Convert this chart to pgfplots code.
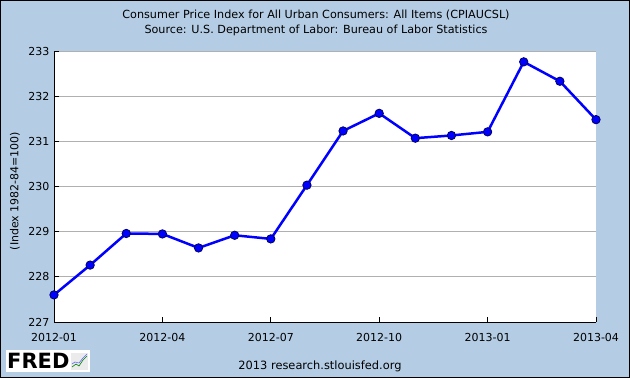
\documentclass[border=0pt]{standalone}
\usepackage{pgfplots}
\pgfplotsset{compat=1.18}
\usepackage{fontspec}
\setmainfont{DejaVu Sans}
\definecolor{bgblue}{HTML}{B4CCE4}
\definecolor{gridgray}{HTML}{B0B0B0}
\definecolor{mkedge}{HTML}{000060}
\begin{document}
\begin{tikzpicture}
\fill[bgblue] (0,0) rectangle (630bp,378bp);
\draw[black, line width=1bp] (0.5bp,0.5bp) rectangle (629.5bp,377.5bp);
\node[font=\fontsize{11.2bp}{12bp}\selectfont] at (316bp,363bp) {Consumer Price Index for All Urban Consumers: All Items (CPIAUCSL)};
\node[font=\fontsize{11.2bp}{12bp}\selectfont] at (316bp,348bp) {Source: U.S. Department of Labor: Bureau of Labor Statistics};
\node[font=\fontsize{11bp}{12bp}\selectfont, rotate=90] at (15bp,187bp) {(Index 1982-84=100)};
\node[font=\fontsize{11.4bp}{12bp}\selectfont] at (320bp,12bp) {2013 research.stlouisfed.org};
% FRED logo
\fill[white] (6bp,6bp) rectangle (90bp,28bp);
\node[font=\fontsize{21bp}{22bp}\selectfont\bfseries, anchor=west, inner sep=0pt] at (7bp,17bp) {FRED};
\fill[black!8] (71bp,8bp) rectangle (88bp,25bp);
\draw[green!50!black, line width=0.6bp] (72bp,11bp) -- (76bp,14bp) -- (79bp,12bp) -- (83bp,18bp) -- (87bp,22bp);
\draw[blue!60, line width=0.6bp] (72bp,14bp) -- (75bp,16bp) -- (79bp,15bp) -- (83bp,20bp) -- (87bp,24bp);
\begin{axis}[
  at={(54bp,56bp)}, anchor=south west,
  width=542bp, height=271bp, scale only axis,
  xmin=0, xmax=15, ymin=227, ymax=233,
  axis background/.style={fill=white},
  axis x line=bottom, axis y line=left,
  axis line style={-, black, line width=1bp},
  xtick={0,3,6,9,12,15},
  xticklabels={2012-01,2012-04,2012-07,2012-10,2013-01,2013-04},
  ytick={227,228,229,230,231,232,233},
  tick align=inside, major tick length=5bp,
  tick style={black, line width=1bp},
  ymajorgrids, grid style={gridgray, line width=1bp},
  /pgf/number format/assume math mode=true,
  /pgf/number format/1000 sep={},
  tick label style={font=\fontsize{11bp}{13bp}\selectfont},
  xticklabel style={yshift=-8bp},
  yticklabel style={xshift=-1bp},
  clip=false,
]
\addplot[blue, line width=2.5bp, mark=*, mark size=4.2bp, mark options={fill=blue, draw=mkedge, line width=0.8bp}] coordinates {
(0,227.60) (1,228.26) (2,228.96) (3,228.95) (4,228.64) (5,228.92) (6,228.84) (7,230.03)
(8,231.23) (9,231.62) (10,231.07) (11,231.13) (12,231.21) (13,232.76) (14,232.33) (15,231.48)
};
\end{axis}
\end{tikzpicture}
\end{document}
